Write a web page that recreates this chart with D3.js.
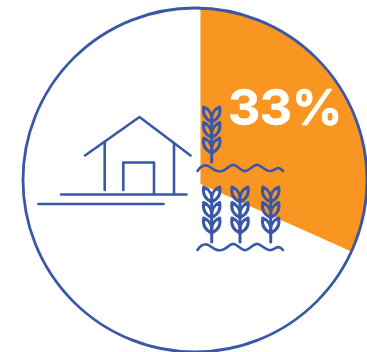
<!DOCTYPE html>
<html>
<head>
<meta charset="utf-8">
<style>
  html, body { margin: 0; padding: 0; background: #fff; }
  svg { display: block; }
</style>
<script src="https://cdn.jsdelivr.net/npm/d3@7"></script>
</head>
<body>
<svg id="chart" width="367" height="352"></svg>
<script>
// Share of the whole shown in the highlighted slice
const shareLabels = ["Highlighted", "Rest"];
const shareValues = [33, 67];
const shareColors = ["#f99621", "none"];

const ink = "#3b58a8";
const W = 367, H = 352;
const svg = d3.select("#chart").attr("viewBox", `0 0 ${W} ${H}`);

// Outer ring
const ring = { cx: 195, cy: 180, r: 172 };

svg.append("defs").append("clipPath").attr("id", "ring-clip")
  .append("circle").attr("cx", ring.cx).attr("cy", ring.cy).attr("r", ring.r);

// Slice: the pie starts at twelve o'clock, runs past the ring and is trimmed by it
const pie = d3.pie().sort(null).value(d => d);
const arc = d3.arc().innerRadius(0).outerRadius(320);

svg.append("g").attr("clip-path", "url(#ring-clip)")
  .append("g").attr("transform", "translate(200.5,184) scale(1,0.813)")
  .selectAll("path")
  .data(pie(shareValues))
  .join("path")
  .attr("d", arc)
  .attr("fill", (d, i) => shareColors[i]);

svg.append("circle")
  .attr("cx", ring.cx).attr("cy", ring.cy).attr("r", ring.r)
  .attr("fill", "none").attr("stroke", ink).attr("stroke-width", 2.8);

svg.append("text")
  .attr("x", 285).attr("y", 124.5)
  .attr("text-anchor", "middle")
  .attr("font-family", "Inter, sans-serif")
  .attr("font-weight", 700)
  .attr("font-size", 50)
  .attr("letter-spacing", -0.5)
  .attr("stroke", "#fff")
  .attr("stroke-width", 0.5)
  .attr("fill", "#fff")
  .text(`${shareValues[0]}%`);

// Line icons
const icons = svg.append("g")
  .attr("fill", "none").attr("stroke", ink)
  .attr("stroke-linecap", "round").attr("stroke-linejoin", "round");

// Barn and the two ground lines
const barn = icons.append("g").attr("stroke-width", 2.6);
[
  "M85,155.5 L139.5,117 L190.5,155.5",
  "M104.7,142 V190",
  "M174,143 V194",
  "M123.3,190 V162.5 H154 V194",
  "M61,194.5 H186.5",
  "M38.5,204 H163.5"
].forEach(d => barn.append("path").attr("d", d));

// One ear of wheat, drawn around its stem with the top of the ear at y = 0
const leafPairs = [0, 15.5, 31];
function wheat(x, y) {
  const g = icons.append("g")
    .attr("transform", `translate(${x},${y})`)
    .attr("stroke-width", 3);
  g.append("path").attr("d", "M0,15 V55");
  leafPairs.forEach(dy => {
    g.append("path").attr("d",
      `M0,${dy + 15} C-7,${dy + 12} -9,${dy + 6} -8,${dy}
       C-3,${dy + 2} 1,${dy + 7} 0,${dy + 15}
       C-1,${dy + 7} 3,${dy + 2} 8,${dy}
       C9,${dy + 6} 7,${dy + 12} 0,${dy + 15}`);
  });
}
wheat(211.7, 107);
wheat(211.7, 187);
wheat(240, 187);
wheat(270.7, 187);

// Wavy water lines under the crops
function wave(y) {
  icons.append("path")
    .attr("stroke-width", 2.6)
    .attr("d", `M197.5,${y + 3}
      C201,${y - 3} 206,${y - 4} 210,${y - 1}
      S217,${y + 4} 222,${y + 3}
      S230,${y - 4} 234,${y - 3}
      S242,${y + 4} 246,${y + 3}
      S254,${y - 4} 258,${y - 3}
      S266,${y + 4} 271,${y + 3}
      S278,${y - 3} 283,${y + 3}`);
}
wave(168);
wave(247);
</script>
</body>
</html>
